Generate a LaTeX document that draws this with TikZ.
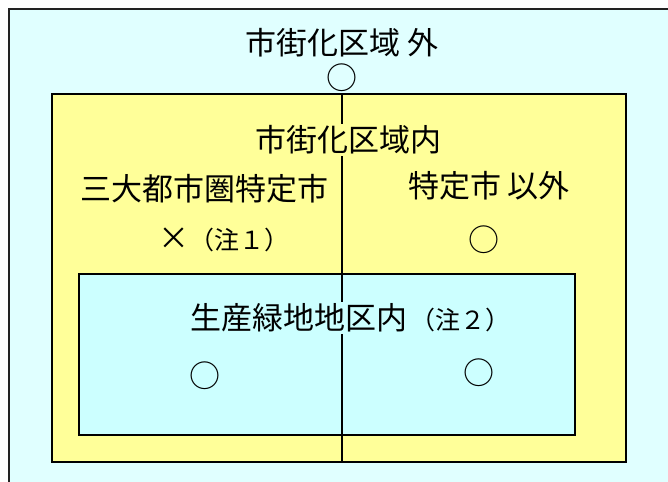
\documentclass[tikz,border=0pt]{standalone}
\usepackage{fontspec}
\setmainfont{Noto Sans CJK JP}
\definecolor{outerc}{HTML}{E0FFFF}
\definecolor{yel}{HTML}{FFFF99}
\definecolor{innerc}{HTML}{CCFFFF}
\definecolor{frame}{HTML}{222222}
\newcommand{\bigf}{\fontsize{31}{33}\selectfont}
\newcommand{\smallf}{\fontsize{25}{27}\selectfont}
\tikzset{
  big/.style={font=\bigf, inner sep=1.5pt},
  circmark/.style={font=\bigf, inner sep=0pt},
  box/.style={draw=black, line width=2pt},
}
\begin{document}
\begin{tikzpicture}[x=1pt,y=-1pt]
\useasboundingbox (0,0) rectangle (668,481);
\fill[white] (0,0) rectangle (668,481);
% outer region
\fill[outerc] (9,9) rectangle (680,495);
\draw[frame, line width=2pt] (9,495) -- (9,9) -- (680,9);
% yellow
\draw[box, fill=yel] (52,94) rectangle (626,462);
% inner
\draw[box, fill=innerc] (79,274) rectangle (575,435);
% divider
\coordinate (ltop) at (342,94);
\coordinate (lbot) at (342,462);
\draw[line width=1.3pt] (ltop) -- (lbot);
% texts
\node[big] (out) at (342,43) {市街化区域 外};
\node[circmark] (c0) at (342,78) {○};
\node[big, fill=yel] (in) at (348,140) {市街化区域内};
\node[big] (sandai) at (204,189) {三大都市圏特定市};
\node[inner sep=1pt] (x1) at (224,240) {\bigf ×\smallf（注１）};
\node[big] (igai) at (489,186) {特定市 以外};
\node[circmark] (c1) at (484,240) {○};
\node[inner sep=2pt, fill=innerc] (seisan) at (350,318) {\bigf 生産緑地地区内\hspace{3pt}\smallf（注２）};
\node[circmark] (c2) at (205,376) {○};
\node[circmark] (c3) at (479,373) {○};
\end{tikzpicture}
\end{document}
